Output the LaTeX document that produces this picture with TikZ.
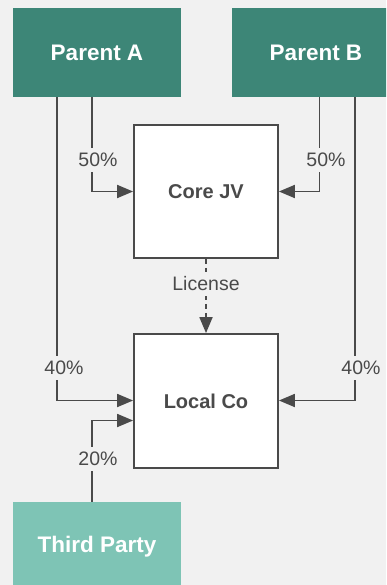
\documentclass[tikz,border=0pt]{standalone}
\usepackage{fontspec}
\setmainfont{Liberation Sans}
\usetikzlibrary{arrows.meta}
\definecolor{bg}{HTML}{F1F1F1}
\definecolor{parentc}{HTML}{3D8677}
\definecolor{thirdc}{HTML}{7EC4B5}
\definecolor{ink}{HTML}{4A4A4A}
\tikzset{
  party/.style={rectangle, minimum width=168pt, minimum height=89pt, inner sep=0pt,
    text=white, font=\fontsize{22.5}{26}\selectfont\bfseries},
  entity/.style={rectangle, draw=ink, line width=1.8pt, fill=white, minimum width=144pt,
    minimum height=133pt, inner sep=0pt, text=ink, font=\fontsize{20}{24}\selectfont\bfseries},
  link/.style={draw=ink, line width=1.8pt, -{Triangle[length=16pt,width=13pt]}},
  share/.style={fill=bg, text=ink, inner xsep=1pt, inner ysep=5pt,
    font=\fontsize{19.5}{23}\selectfont}
}
\begin{document}
\begin{tikzpicture}[x=1pt, y=-1pt]
  \fill[bg] (0,0) rectangle (386,585);
  \useasboundingbox (0,0) rectangle (386,585);
  \clip (0,0) rectangle (386,585);

  % owners and companies
  \node[party, fill=parentc] (pa) at (97,52.5) {Parent A};
  \node[party, fill=parentc] (pb) at (316,52.5) {Parent B};
  \node[entity] (core) at (206,191.5) {Core JV};
  \node[entity, minimum height=134pt] (local) at (206,401) {Local Co};
  \node[party, fill=thirdc] (tp) at (97,546.5) {Third Party};

  % ownership lines
  \draw[link] ([xshift=-5pt]pa.south) |- (core.west);
  \draw[link] ([xshift=-40pt]pa.south) |- ([yshift=0.5pt]local.west);
  \draw[link] ([xshift=3.5pt]pb.south) |- (core.east);
  \draw[link] ([xshift=39pt]pb.south) |- ([yshift=0.5pt]local.east);
  \draw[link] ([xshift=-5pt]tp.north) |- ([yshift=-19.5pt]local.west);
  \draw[link, dashed, dash pattern=on 5pt off 4pt] (core.south) -- (local.north);

  % share labels
  \node[share] (s1) at (98,160) {50\%};
  \node[share] (s2) at (326,160) {50\%};
  \node[share] (s3) at (64,368) {40\%};
  \node[share] (s4) at (361,368) {40\%};
  \node[share] (s5) at (98,459) {20\%};
  \node[share] (lic) at (206,284) {License};
\end{tikzpicture}
\end{document}
